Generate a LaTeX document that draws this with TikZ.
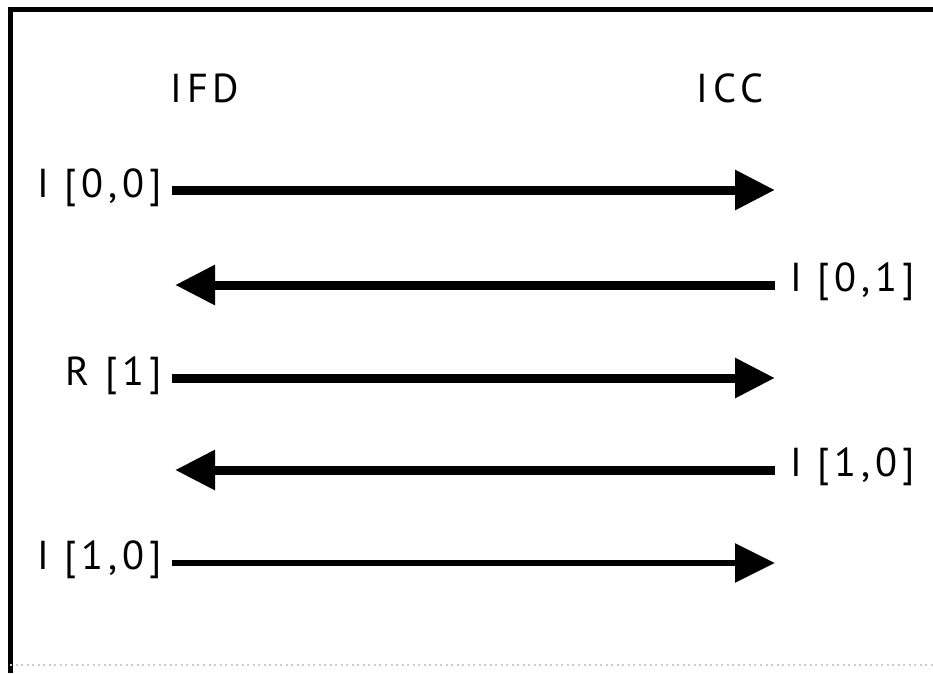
\documentclass[tikz,border=0pt]{standalone}
\usepackage{fontspec}
\setmainfont{PT Sans}
\newfontfamily\lblfont[LetterSpace=12]{PT Sans}
\usetikzlibrary{arrows.meta}

\begin{document}
\begin{tikzpicture}[x=0.2mm,y=-0.2mm,
        lbl/.style={font=\lblfont\fontsize{23}{25}\selectfont, inner sep=0pt},
        msg/.style={line width=1.8mm, -{Triangle[length=8mm,width=7.6mm]}}]
        \useasboundingbox (0,0) rectangle (933,673);

        % frame
        \draw[line width=1mm] (10,673) -- (10,9) -- (933,9);
        \draw[line width=0.4mm, black!20, dotted] (10,665) -- (933,665);

        % the two sides
        \node[lbl] (ifd) at (205,88) {IFD};
        \node[lbl] (icc) at (730,88) {ICC};

        % arrow ends
        \coordinate (l1) at (172,190); \coordinate (r1) at (775,190);
        \coordinate (l2) at (175,285); \coordinate (r2) at (775,285);
        \coordinate (l3) at (172,378); \coordinate (r3) at (775,378);
        \coordinate (l4) at (175,470); \coordinate (r4) at (775,470);
        \coordinate (l5) at (172,563); \coordinate (r5) at (775,563);

        % block labels
        \node[lbl, anchor=east] (b1) at (162,188) {I [0,0]};
        \node[lbl, anchor=west] (b2) at (790,282) {I [0,1]};
        \node[lbl, anchor=east] (b3) at (162,376) {R [1]};
        \node[lbl, anchor=west] (b4) at (790,467) {I [1,0]};
        \node[lbl, anchor=east] (b5) at (162,560) {I [1,0]};

        % messages
        \draw[msg] (l1) -- (r1);
        \draw[msg] (r2) -- (l2);
        \draw[msg] (l3) -- (r3);
        \draw[msg] (r4) -- (l4);
        \draw[msg, line width=1.2mm] (l5) -- (r5);
\end{tikzpicture}
\end{document}
